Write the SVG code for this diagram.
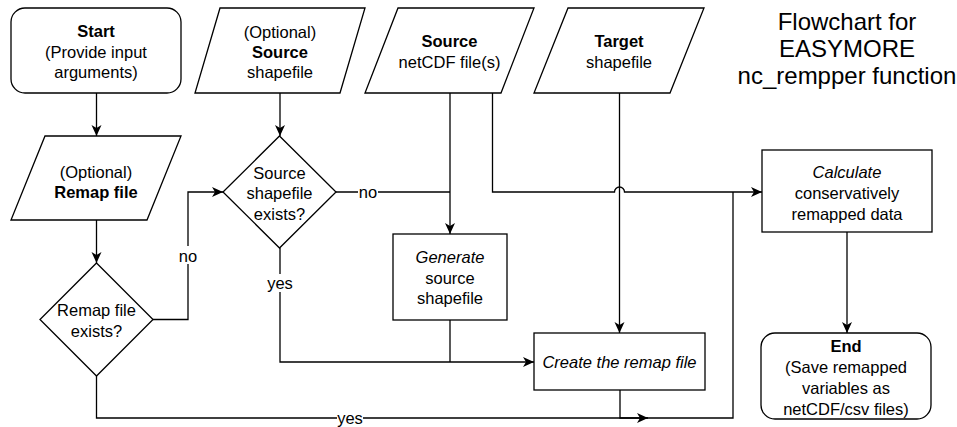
<svg xmlns="http://www.w3.org/2000/svg" width="957" height="427" viewBox="0 0 957 427">
<style>
.s{fill:#fff;stroke:#000;stroke-width:1.3}
.c{fill:none;stroke:#000;stroke-width:1.3}
text{font-family:"Liberation Sans",Arial,sans-serif;font-size:16.5px;text-anchor:middle;fill:#000}
.b{font-weight:bold}
.i{font-style:italic}
.t{font-size:24px}
.lb{fill:#fff;stroke:none}
</style>
<defs>
<marker id="a" markerUnits="userSpaceOnUse" markerWidth="14" markerHeight="12" refX="12" refY="6" orient="auto">
<path d="M1,1 L12,6 L1,11 L4,6 z" fill="#000"/>
</marker>
</defs>
<rect width="957" height="427" fill="#fff"/>
<g id="title">
<text class="t" x="847" y="29.5">Flowchart for</text>
<text class="t" x="847" y="56.5">EASYMORE</text>
<text class="t" x="847" y="83.5">nc_rempper function</text>
</g>
<g id="connectors">
<path class="c" d="M96.5,93 V136" marker-end="url(#a)"/>
<path class="c" d="M96.5,220 V263" marker-end="url(#a)"/>
<path class="c" d="M153,319.5 H188 V192 H223" marker-end="url(#a)"/>
<path class="c" d="M280,93 V136" marker-end="url(#a)"/>
<path class="c" d="M336,192 H450"/>
<path class="c" d="M450,93 V234" marker-end="url(#a)"/>
<path class="c" d="M280,248 V362 H534" marker-end="url(#a)"/>
<path class="c" d="M450,320 V362"/>
<path class="c" d="M619.5,93 V333" marker-end="url(#a)"/>
<path class="c" d="M492.5,93 V192 H614.5 A5,5 0 0 1 624.5,192 H762" marker-end="url(#a)"/>
<path class="c" d="M96.5,376 V418 H733 V192"/>
<path class="c" d="M620,390 V418 H648" marker-end="url(#a)"/>
<path class="c" d="M847,232 V333" marker-end="url(#a)"/>
<rect class="lb" x="178" y="246" width="20" height="18"/>
<text x="188" y="262">no</text>
<rect class="lb" x="358" y="183" width="20" height="18"/>
<text x="368" y="198">no</text>
<rect class="lb" x="267" y="274" width="26" height="18"/>
<text x="280" y="289">yes</text>
<rect class="lb" x="337" y="409" width="26" height="18"/>
<text x="350" y="424">yes</text>
</g>
<g id="start">
<rect class="s" x="11" y="8" width="170" height="85" rx="14"/>
<text class="b" x="96" y="37">Start</text>
<text x="96" y="57.5">(Provide input</text>
<text x="96" y="78">arguments)</text>
</g>
<g id="remapfile">
<path class="s" d="M45,136 H181 L147,220 H11 Z"/>
<text x="96" y="178">(Optional)</text>
<text class="b" x="96" y="198">Remap file</text>
</g>
<g id="remapexists">
<path class="s" d="M96.5,263 L153,319.5 L96.5,376 L40,319.5 Z"/>
<text x="96.5" y="315.5">Remap file</text>
<text x="96.5" y="337">exists?</text>
</g>
<g id="sourceshp">
<path class="s" d="M220,8 H365 L340,93 H195 Z"/>
<text x="280" y="38">(Optional)</text>
<text class="b" x="280" y="58">Source</text>
<text x="280" y="78">shapefile</text>
</g>
<g id="sourceexists">
<path class="s" d="M279.5,136 L336,192 L279.5,248 L223,192 Z"/>
<text x="279.5" y="178.5">Source</text>
<text x="279.5" y="199">shapefile</text>
<text x="279.5" y="219.5">exists?</text>
</g>
<g id="netcdf">
<path class="s" d="M398,8 H534 L501,93 H365 Z"/>
<text class="b" x="449.5" y="46.5">Source</text>
<text x="449.5" y="67.5">netCDF file(s)</text>
</g>
<g id="target">
<path class="s" d="M568,8 H704 L670,93 H534 Z"/>
<text class="b" x="619" y="46.5">Target</text>
<text x="619" y="67.5">shapefile</text>
</g>
<g id="generate">
<rect class="s" x="393" y="234" width="114" height="86"/>
<text class="i" x="450" y="262.5">Generate</text>
<text x="450" y="283.5">source</text>
<text x="450" y="304">shapefile</text>
</g>
<g id="create">
<rect class="s" x="534" y="333" width="171" height="57"/>
<text class="i" x="619.5" y="368">Create the remap file</text>
</g>
<g id="calculate">
<rect class="s" x="762" y="150" width="170" height="82"/>
<text class="i" x="847" y="178">Calculate</text>
<text x="847" y="199">conservatively</text>
<text x="847" y="220">remapped data</text>
</g>
<g id="end">
<rect class="s" x="761" y="333" width="170" height="86" rx="14"/>
<text class="b" x="846" y="352">End</text>
<text x="846" y="373">(Save remapped</text>
<text x="846" y="394">variables as</text>
<text x="846" y="415">netCDF/csv files)</text>
</g>
</svg>
